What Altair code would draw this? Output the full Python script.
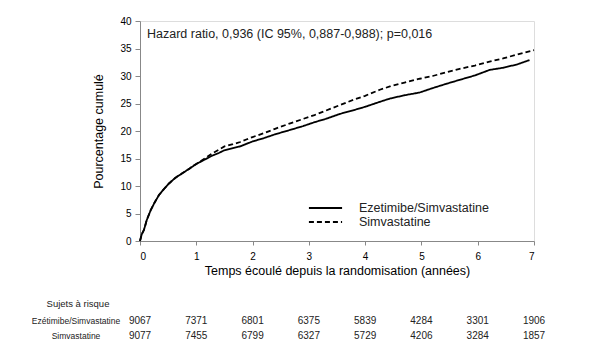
import altair as alt
import pandas as pd

# ---- data ----
series_names = ["Ezetimibe/Simvastatine", "Simvastatine"]

t_eze = [0, 0.03, 0.07, 0.12, 0.19, 0.26, 0.34, 0.43, 0.52, 0.63, 0.75, 0.87, 1.0,
         1.15, 1.28, 1.4, 1.5, 1.65, 1.78, 1.9, 2.0, 2.2, 2.4, 2.67, 2.9, 3.1, 3.3,
         3.55, 3.8, 4.0, 4.26, 4.44, 4.7, 4.97, 5.2, 5.45, 5.68, 5.95, 6.21, 6.45,
         6.7, 6.92]
v_eze = [0, 1.2, 2.0, 3.8, 5.6, 7.0, 8.4, 9.5, 10.5, 11.5, 12.3, 13.1, 14.0,
         14.8, 15.5, 16.0, 16.5, 16.9, 17.2, 17.7, 18.1, 18.7, 19.4, 20.2, 20.9,
         21.6, 22.2, 23.1, 23.8, 24.4, 25.3, 25.9, 26.5, 27.0, 27.8, 28.6, 29.3,
         30.1, 31.1, 31.5, 32.1, 32.9]

t_sim = [0, 0.03, 0.07, 0.12, 0.19, 0.26, 0.34, 0.43, 0.52, 0.63, 0.75, 0.87, 1.0,
         1.15, 1.28, 1.4, 1.5, 1.65, 1.78, 1.9, 2.0, 2.2, 2.4, 2.67, 2.9, 3.1, 3.3,
         3.55, 3.8, 4.0, 4.26, 4.44, 4.7, 4.97, 5.2, 5.45, 5.68, 5.95, 6.21, 6.45,
         6.7, 7.0]
v_sim = [0, 1.2, 2.0, 3.8, 5.6, 7.0, 8.4, 9.5, 10.5, 11.5, 12.3, 13.1, 14.0,
         15.0, 15.9, 16.6, 17.2, 17.6, 18.0, 18.5, 18.9, 19.6, 20.4, 21.4, 22.2,
         22.9, 23.7, 24.7, 25.7, 26.4, 27.5, 28.1, 28.8, 29.5, 30.0, 30.7, 31.3,
         31.9, 32.6, 33.2, 33.9, 34.7]

risk_times = [0, 1, 2, 3, 4, 5, 6, 7]
risk_eze = [9067, 7371, 6801, 6375, 5839, 4284, 3301, 1906]
risk_sim = [9077, 7455, 6799, 6327, 5729, 4206, 3284, 1857]
risk_row_labels = ["Ezétimibe/Simvastatine", "Simvastatine"]
risk_header = "Sujets à risque"

annotation = "Hazard ratio, 0,936 (IC 95%, 0,887-0,988); p=0,016"
x_title = "Temps écoulé depuis la randomisation (années)"
y_title = "Pourcentage cumulé"

FONT = "Liberation Sans"
TXT = "#222222"

curves = pd.concat([
    pd.DataFrame({"t": t_eze, "v": v_eze, "s": series_names[0]}),
    pd.DataFrame({"t": t_sim, "v": v_sim, "s": series_names[1]}),
])

x_scale = alt.Scale(domain=[0, 7], nice=False)
y_scale = alt.Scale(domain=[0, 40], nice=False)

xticks = [i * 0.5 for i in range(15)]

lines = alt.Chart(curves).mark_line(color="black", strokeWidth=1.8).encode(
    x=alt.X("t:Q", scale=x_scale,
            axis=alt.Axis(title=x_title, values=xticks,
                          labelExpr="datum.value % 1 == 0 ? format(datum.value, 'd') : ''",
                          tickSize=4, grid=False, titlePadding=3, labelPadding=6,
                          titleFontWeight="normal", titleFont=FONT, titleFontSize=12.5)),
    y=alt.Y("v:Q", scale=y_scale,
            axis=alt.Axis(title=y_title, values=list(range(0, 45, 5)),
                          tickSize=5, grid=False, titlePadding=14, labelPadding=4,
                          titleFontWeight="normal", titleFont=FONT, titleFontSize=12.5)),
    strokeDash=alt.StrokeDash(
        "s:N",
        scale=alt.Scale(domain=series_names, range=[[1, 0], [5, 3]]),
        legend=alt.Legend(title=None, orient="none", legendX=168, legendY=180,
                          symbolType="stroke", symbolSize=1100,
                          symbolStrokeWidth=1.8, symbolStrokeColor="black",
                          labelFont=FONT, labelFontSize=12.5, labelColor=TXT,
                          labelOffset=16, rowPadding=0, clipHeight=14),
    ),
    order="t:Q",
)

ann = alt.Chart(pd.DataFrame({"txt": [annotation]})).mark_text(
    align="left", baseline="middle", font=FONT, fontSize=12.5, color=TXT
).encode(x=alt.value(7), y=alt.value(13), text="txt:N")

risk_df = pd.concat([
    pd.DataFrame({"t": risk_times, "n": risk_eze, "row": risk_row_labels[0]}),
    pd.DataFrame({"t": risk_times, "n": risk_sim, "row": risk_row_labels[1]}),
])
row_y = [300, 315]

risk_layers = []
for lbl, yy in zip(risk_row_labels, row_y):
    risk_layers.append(
        alt.Chart(risk_df).transform_filter(alt.datum.row == lbl).mark_text(
            align="center", baseline="middle", font=FONT, fontSize=10, color=TXT
        ).encode(x=alt.X("t:Q", scale=x_scale), y=alt.value(yy), text="n:Q")
    )
    risk_layers.append(
        alt.Chart(pd.DataFrame({"row": [lbl]})).mark_text(
            align="center", baseline="middle", font=FONT, fontSize=8.5, color=TXT
        ).encode(x=alt.value(-64), y=alt.value(yy), text="row:N")
    )

header = alt.Chart(pd.DataFrame({"txt": [risk_header]})).mark_text(
    align="center", baseline="middle", font=FONT, fontSize=9.5, color=TXT
).encode(x=alt.value(-62), y=alt.value(283), text="txt:N")

chart = alt.layer(lines, ann, *risk_layers, header).properties(
    width=394, height=220,
    autosize=alt.AutoSizeParams(type="none"),
    padding={"left": 132, "top": 13, "right": 50, "bottom": 120},
).configure_view(stroke=None).configure_axis(
    domainColor="#333333", tickColor="#333333", domainWidth=1.5, tickWidth=1,
    labelFont=FONT, labelFontSize=12, labelColor=TXT,
    titleColor=TXT,
).configure(background="white")

chart.save("out.html", embed_options={"renderer": "svg", "actions": False})
